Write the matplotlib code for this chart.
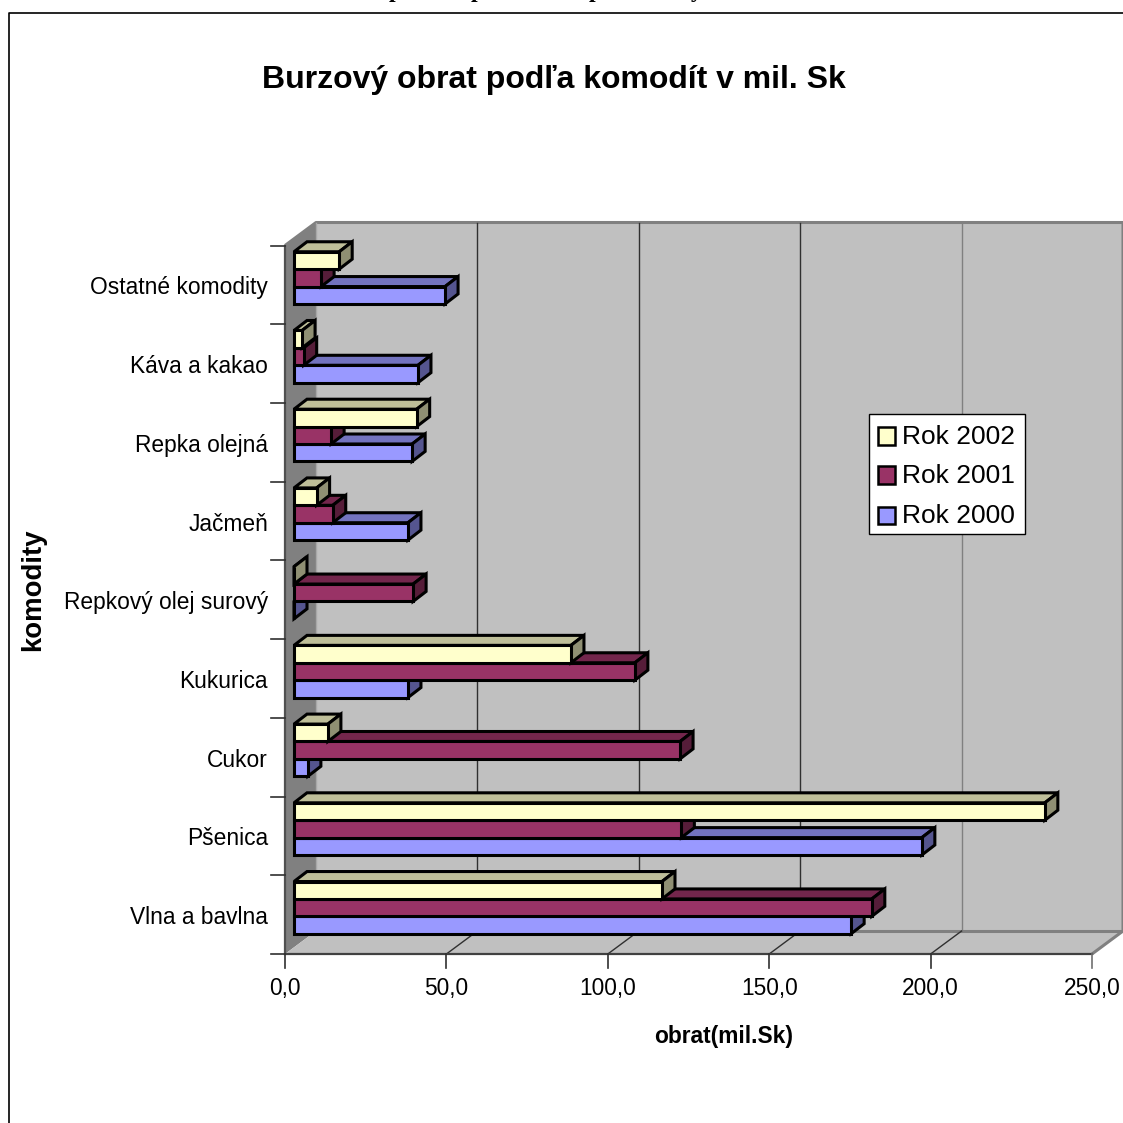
import matplotlib
matplotlib.use("Agg")
import matplotlib.pyplot as plt
from matplotlib.patches import Polygon, Rectangle

categories = ["Vlna a bavlna", "Pšenica", "Cukor", "Kukurica", "Repkový olej surový",
              "Jačmeň", "Repka olejná", "Káva a kakao", "Ostatné komodity"]
series_names = ["Rok 2000", "Rok 2001", "Rok 2002"]
rok_2000 = [172.6, 194.5, 4.3, 35.3, 0.0, 35.3, 36.6, 38.4, 46.8]
rok_2001 = [179.0, 120.0, 119.6, 105.6, 36.9, 12.0, 11.5, 3.0, 8.4]
rok_2002 = [114.0, 232.6, 10.5, 85.8, 0.0, 7.0, 38.0, 2.5, 14.0]
xticks = [0, 50, 100, 150, 200, 250]
xticklabels = ["0,0", "50,0", "100,0", "150,0", "200,0", "250,0"]

face = ["#9999FF", "#993366", "#FFFFCC"]
top = ["#7373BF", "#73264C", "#BFBF99"]
side = ["#55558F", "#561D39", "#8F8F73"]

W = 1123
plt.rcParams["font.family"] = ["Liberation Sans", "DejaVu Sans"]
fig = plt.figure(figsize=(W / 100, W / 100), dpi=100)

# axes spans the front plane of the 3-D box, in pixels
L, R, T, B = 285, 1092, 245.5, 954
ax = fig.add_axes([L / W, 1 - B / W, (R - L) / W, (B - T) / W])
ax.set_xlim(0, 250)
ax.set_ylim(0, len(categories))
ax.axis("off")
px = 250 / (R - L)
py = len(categories) / (B - T)

def P(v, c, dx=0, dy=0):
    return (v + dx * px, c + dy * py)

DX, DY = 31, 23
kw = dict(clip_on=False)
# walls
ax.add_patch(Polygon([P(0, 0), P(0, 0, DX, DY), P(0, 9, DX, DY), P(0, 9)], fc="#808080", ec="none", zorder=1, **kw))
ax.add_patch(Polygon([P(0, 0, DX, DY), P(250, 0, DX, DY), P(250, 9, DX, DY), P(0, 9, DX, DY)], fc="#C0C0C0", ec="none", zorder=1, **kw))
ax.add_patch(Polygon([P(0, 0), P(250, 0), P(250, 0, DX, DY), P(0, 0, DX, DY)], fc="#C0C0C0", ec="none", zorder=1, **kw))
# wall edges
edge = dict(color="#808080", lw=2.2, zorder=2, clip_on=False, solid_capstyle="butt")
ax.plot(*zip(P(0, 9), P(0, 9, DX, DY), P(250, 9, DX, DY)), **edge)
ax.plot(*zip(P(0, 0, DX, DY), P(250, 0, DX, DY)), **edge)
ax.plot(*zip(P(250, 9, DX, DY), P(250, 0, DX, DY), P(250, 0)), **edge)
ax.plot(*zip(P(0, 0, DX, DY), P(0, 9, DX, DY)), color="#A8A8A8", lw=1, zorder=2, clip_on=False)
# grid
for t in xticks[1:-1]:
    col = "#808080" if t == 200 else "#303030"
    ax.plot(*zip(P(t, 0, DX, DY), P(t, 9, DX, DY)), color=col, lw=1, zorder=2, clip_on=False)
    ax.plot(*zip(P(t, 0), P(t, 0, DX, DY)), color="#303030", lw=1, zorder=2, clip_on=False)
# front axes and ticks
ax.plot([0, 250], [0, 0], color="#404040", lw=1.6, zorder=3, clip_on=False)
ax.plot([0, 0], [0, 9], color="#505050", lw=1.6, zorder=3, clip_on=False)
for t, lab in zip(xticks, xticklabels):
    ax.plot(*zip(P(t, 0), P(t, 0, 0, -14)), color="#303030" if t < 250 else "#707070", lw=1.2, zorder=3, clip_on=False)
    ax.text(*P(t, 0, 0, -34), lab, ha="center", va="center", fontsize=16.4, color="black")
for i in range(len(categories) + 1):
    ax.plot(*zip(P(0, i), P(0, i, -14, 0)), color="#303030", lw=1.2, zorder=3, clip_on=False)
for i, name in enumerate(categories):
    ax.text(*P(0, i + 0.5, -17, -3), name, ha="right", va="center", fontsize=16.4, color="black")

# bars: lower bar of each group first, so the next one's front hides its top
bar_dx0, bar_dy0 = 9, 7
bar_depth_x, bar_depth_y = 13, 10
bar_h = 17.4 * py
series = [rok_2000, rok_2001, rok_2002]
z = 10
ek = dict(ec="black", lw=2.2, joinstyle="miter", clip_on=False)
for c in range(len(categories)):
    for s in range(3):
        v = series[s][c]
        y0 = c + 0.5 + (s - 1.5) * bar_h
        y1 = y0 + bar_h
        dx, dy = bar_dx0, bar_dy0
        ex, ey = dx + bar_depth_x, dy + bar_depth_y
        ax.add_patch(Polygon([P(0, y1, dx, dy), P(0, y1, ex, ey), P(v, y1, ex, ey), P(v, y1, dx, dy)], fc=top[s], zorder=z, **ek))
        ax.add_patch(Polygon([P(v, y0, dx, dy), P(v, y0, ex, ey), P(v, y1, ex, ey), P(v, y1, dx, dy)], fc=side[s], zorder=z, **ek))
        ax.barh(y0 + dy * py, v, height=bar_h, left=dx * px, align="edge", color=face[s], edgecolor="black",
                linewidth=2.2, zorder=z + 1, clip_on=False)
        z += 2

# titles
fig.text(554 / W, 1 - 80 / W, "Burzový obrat podľa komodít v mil. Sk", ha="center", va="center",
         fontsize=23.0, fontweight="bold")
fig.text(724 / W, 1 - 1036 / W, "obrat(mil.Sk)", ha="center", va="center", fontsize=16.4, fontweight="bold")
fig.text(33 / W, 1 - 590 / W, "komodity", ha="center", va="center", rotation=90, fontsize=19.8, fontweight="bold")

# legend
lx0, lx1, ly0, ly1 = 868.5, 1025, 413.5, 534
fig.add_artist(Rectangle((lx0 / W, 1 - ly1 / W), (lx1 - lx0) / W, (ly1 - ly0) / W, transform=fig.transFigure,
                         fc="white", ec="black", lw=1, zorder=50))
for s, yc in zip([2, 1, 0], [436, 475, 515]):
    fig.add_artist(Rectangle((877.5 / W, 1 - (yc + 8.5) / W), 17 / W, 17 / W, transform=fig.transFigure,
                             fc=face[s], ec="black", lw=1.8, zorder=51))
    fig.text(902 / W, 1 - (yc + 1) / W, series_names[s], ha="left", va="center", fontsize=19.0, zorder=51)

# outer frame, cut by the picture edge
fig.add_artist(plt.Line2D([1, 8.5 / W, 8.5 / W], [1 - 13 / W, 1 - 13 / W, 0], transform=fig.transFigure, color="black", lw=1.2))

# descenders of a heading cut off by the top edge of the picture
for x, ch in zip([395, 477, 595, 697], "pppy"):
    fig.text(x / W, 1 + 3 / W, ch, ha="center", va="baseline", family="Liberation Serif",
             fontweight="bold", fontsize=17)

fig.savefig("out.png", dpi=100)
